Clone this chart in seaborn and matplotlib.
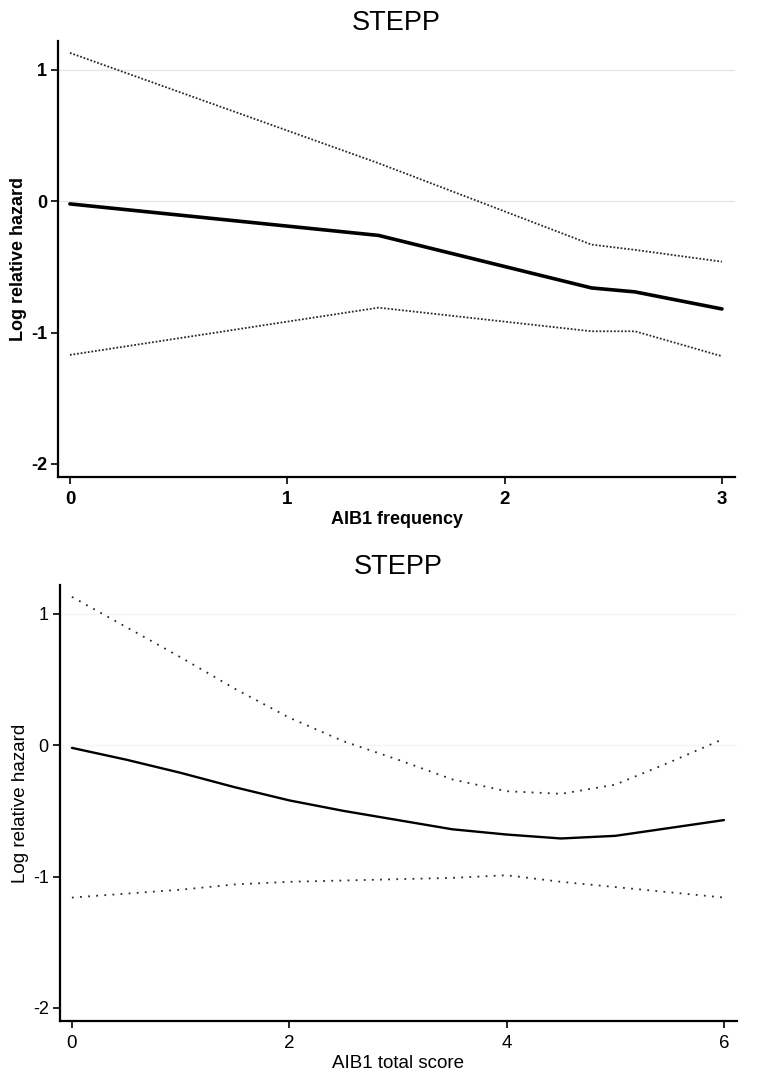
import matplotlib
matplotlib.use("Agg")
import matplotlib.pyplot as plt
import seaborn as sns
import pandas as pd

# Panneau du haut : AIB1 frequency
freq_x = [0, 1.42, 2.4, 2.6, 3.0]
freq_est = [-0.02, -0.26, -0.66, -0.69, -0.82]
freq_upper = [1.13, 0.29, -0.33, -0.37, -0.46]
freq_lower = [-1.17, -0.81, -0.99, -0.99, -1.18]

# Panneau du bas : AIB1 total score
score_x = [0, 0.5, 1, 1.5, 2, 2.5, 3, 3.5, 4, 4.5, 5, 5.5, 6]
score_est = [-0.02, -0.11, -0.21, -0.32, -0.42, -0.50, -0.57, -0.64, -0.68, -0.71, -0.69, -0.63, -0.57]
score_upper = [1.13, 0.90, 0.67, 0.43, 0.21, 0.03, -0.11, -0.26, -0.35, -0.37, -0.30, -0.13, 0.05]
score_lower = [-1.16, -1.13, -1.10, -1.06, -1.04, -1.03, -1.02, -1.01, -0.99, -1.04, -1.08, -1.12, -1.16]

y_ticks = [-2, -1, 0, 1]
y_ticklabels = ["-2", "-1", "0", "1"]
grid_levels = [0, 1]

sns.set_theme(style="ticks")
plt.rcParams["font.family"] = ["Liberation Sans", "DejaVu Sans"]
plt.rcParams["axes.unicode_minus"] = False
for key in ["text.color", "axes.labelcolor", "xtick.color", "ytick.color"]:
    plt.rcParams[key] = "black"

fig = plt.figure(figsize=(7.59, 10.81), dpi=100)
ax_top = fig.add_axes([0.0764, 0.5587, 0.8920, 0.4033])
ax_bot = fig.add_axes([0.0790, 0.0555, 0.8920, 0.4033])


def draw_panel(ax, x, est, upper, lower, xlabel, xticks, xlim, bold, est_lw, dot_style, grid_color):
    df = pd.DataFrame({"x": x, "est": est, "upper": upper, "lower": lower})
    for g in grid_levels:
        ax.axhline(g, color=grid_color, lw=1.0, zorder=0)
    sns.lineplot(data=df, x="x", y="upper", ax=ax, color="#2a2a2a", lw=1.3,
                 linestyle=dot_style)
    sns.lineplot(data=df, x="x", y="lower", ax=ax, color="#2a2a2a", lw=1.3,
                 linestyle=dot_style)
    sns.lineplot(data=df, x="x", y="est", ax=ax, color="black", lw=est_lw)

    weight = "bold" if bold else "normal"
    size = 13 if bold else 13.5
    ax.set_xlim(*xlim)
    ax.set_ylim(-2.1, 1.22)
    ax.set_xticks(xticks)
    ax.set_xticklabels([str(t) for t in xticks], fontsize=13.5, fontweight=weight)
    ax.set_yticks(y_ticks)
    ax.set_yticklabels(y_ticklabels, fontsize=13, fontweight=weight)
    ax.set_xlabel(xlabel, fontsize=size, fontweight=weight, labelpad=2)
    ax.set_ylabel("Log relative hazard", fontsize=size, fontweight=weight, labelpad=3)
    ax.set_title("STEPP", fontsize=19.5, pad=8)
    sns.despine(ax=ax)
    for side in ["left", "bottom"]:
        ax.spines[side].set_linewidth(1.6)
        ax.spines[side].set_color("black")
    ax.tick_params(axis="both", length=5, width=1.2, color="black", pad=3)
    ax.tick_params(axis="x", pad=5)


draw_panel(ax_top, freq_x, freq_est, freq_upper, freq_lower, "AIB1 frequency",
           [0, 1, 2, 3], (-0.055, 3.06), True, 2.6, (0, (1, 1)), "#e6e6e6")
draw_panel(ax_bot, score_x, score_est, score_upper, score_lower, "AIB1 total score",
           [0, 2, 4, 6], (-0.11, 6.12), False, 1.7, (0, (1, 3.5)), "#f5f5f5")

fig.savefig("out.png", dpi=100)
